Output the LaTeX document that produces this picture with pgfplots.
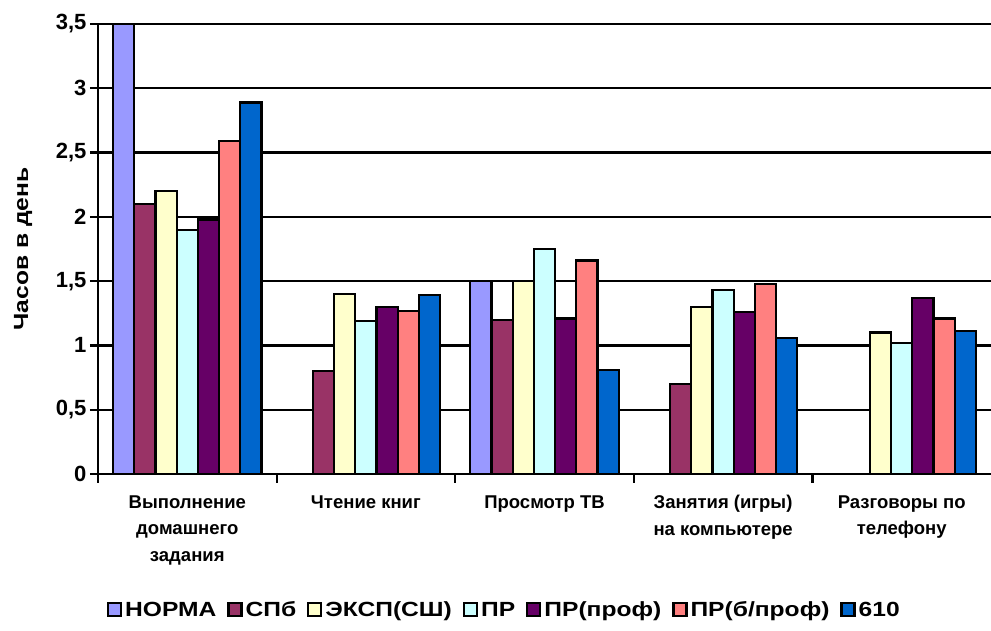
\documentclass[border=0pt]{standalone}
\usepackage{fontspec}
\setmainfont{Liberation Sans}
\newfontfamily\widefont[FakeStretch=1.2]{Liberation Sans}
\usepackage{pgfplots}
\pgfplotsset{compat=1.18}
\definecolor{cNorma}{HTML}{9999FF}
\definecolor{cSpb}{HTML}{993366}
\definecolor{cEksp}{HTML}{FFFFCC}
\definecolor{cPr}{HTML}{CCFFFF}
\definecolor{cProf}{HTML}{660066}
\definecolor{cBprof}{HTML}{FF8080}
\definecolor{c610}{HTML}{0066CC}
\begin{document}
\begin{tikzpicture}
\useasboundingbox (-98pt,-157pt) rectangle (893pt,474pt);
\begin{axis}[
  at={(0pt,0pt)}, anchor=south west,
  scale only axis, width=893pt, height=450pt,
  ybar=0pt, bar width=21.2pt,
  xmin=-0.5, xmax=4.5, ymin=0, ymax=3.5,
  axis x line*=bottom, axis y line*=left,
  axis line style={line width=2.2pt, -},
  xtick={0,1,2,3,4},
  xticklabels={{Выполнение\\домашнего\\задания},{Чтение книг},{Просмотр ТВ},{Занятия (игры)\\на компьютере},{Разговоры по\\телефону}},
  x tick label style={align=center, font=\fontsize{18.5}{26.5}\selectfont\bfseries, yshift=-10pt},
  major x tick style={draw=none},
  minor xtick={-0.5,0.5,1.5,2.5,3.5},
  minor x tick style={line width=2.2pt, black},
  minor tick length=9pt,
  ytick={0,0.5,...,3.5},
  ymajorgrids, grid style={line width=2.2pt, black},
  major y tick style={line width=2.2pt, black},
  major tick length=8pt,
  tick align=outside,
  y tick label style={font=\fontsize{22}{24}\selectfont\bfseries},
  /pgf/number format/assume math mode=true,
  /pgf/number format/use comma,
  ylabel={Часов в день},
  ylabel style={font=\widefont\fontsize{20.5}{24}\selectfont\bfseries, at={(axis description cs:0,0.5)}, anchor=center, yshift=75pt},
  legend columns=7,
  legend style={at={(0.455,-0.302)}, anchor=center, draw=none, font=\widefont\fontsize{20.5}{24}\selectfont\bfseries,
    /tikz/every even column/.append style={column sep=9pt},
    /tikz/every odd column/.append style={column sep=1pt}},
  legend image code/.code={\draw[#1, draw=black, line width=2.2pt] (0pt,-6.5pt) rectangle (13pt,6.5pt);},
]
\addplot[draw=black, line width=2.2pt, fill=cNorma] coordinates {(0,3.5) (2,1.5)};
\addplot[draw=black, line width=2.2pt, fill=cSpb] coordinates {(0,2.1) (1,0.8) (2,1.2) (3,0.7)};
\addplot[draw=black, line width=2.2pt, fill=cEksp] coordinates {(0,2.2) (1,1.4) (2,1.5) (3,1.3) (4,1.1)};
\addplot[draw=black, line width=2.2pt, fill=cPr] coordinates {(0,1.9) (1,1.19) (2,1.75) (3,1.43) (4,1.02)};
\addplot[draw=black, line width=2.2pt, fill=cProf] coordinates {(0,1.98) (1,1.3) (2,1.21) (3,1.26) (4,1.37)};
\addplot[draw=black, line width=2.2pt, fill=cBprof] coordinates {(0,2.59) (1,1.27) (2,1.66) (3,1.48) (4,1.21)};
\addplot[draw=black, line width=2.2pt, fill=c610] coordinates {(0,2.89) (1,1.39) (2,0.81) (3,1.06) (4,1.11)};
\legend{НОРМА, СПб, ЭКСП(СШ), ПР, ПР(проф), ПР(б/проф), 610}
\end{axis}
\end{tikzpicture}
\end{document}
